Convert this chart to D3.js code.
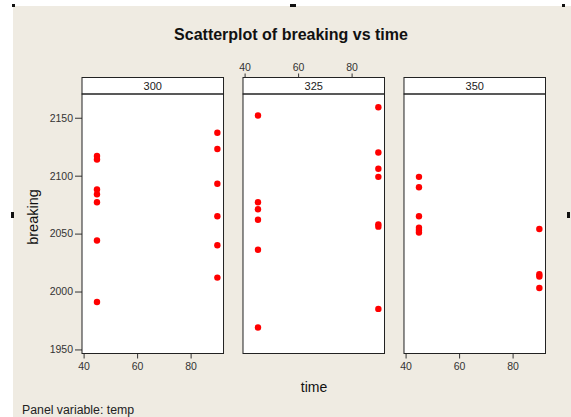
<!DOCTYPE html>
<html>
<head>
<meta charset="utf-8">
<script src="https://cdn.jsdelivr.net/npm/d3@7"></script>
<style>
  body { margin: 0; background: #fff; }
  svg { display: block; font-family: "Liberation Sans", Arial, sans-serif; }
</style>
</head>
<body>
<svg width="571" height="417"></svg>
<script>
// Panel variable (temp) and the two time levels
const temps = ["300", "325", "350"];
const times = [45, 90];

// breaking values, per panel, per time
const breaking300_45 = [2117, 2114, 2088, 2084, 2077, 2044, 1991];
const breaking300_90 = [2137, 2123, 2093, 2065, 2040, 2012];
const breaking325_45 = [2152, 2077, 2071, 2062, 2036, 1969];
const breaking325_90 = [2159, 2120, 2106, 2099, 2058, 2056, 1985];
const breaking350_45 = [2099, 2090, 2065, 2055, 2053, 2051];
const breaking350_90 = [2054, 2015, 2013, 2003];

const yTicks = [1950, 2000, 2050, 2100, 2150];
const xTicks = [40, 60, 80];

// build rows
const data = [];
[[breaking300_45, breaking300_90], [breaking325_45, breaking325_90], [breaking350_45, breaking350_90]]
  .forEach((pair, i) => {
    pair.forEach((vals, j) => {
      vals.forEach(v => data.push({ temp: temps[i], time: times[j], breaking: v }));
    });
  });

const svg = d3.select("svg");

// beige page area (screenshot has a thin white edge top/left)
svg.append("rect").attr("x", 13).attr("y", 6).attr("width", 571 - 13).attr("height", 417 - 6)
  .attr("fill", "#efebe2");

// little selection handles from the original screenshot
[[12, 4, 3, 3], [290, 4, 6, 3], [562, 4, 3, 3], [11, 212, 3, 6], [567, 212, 3, 6]].forEach(h => {
  svg.append("rect").attr("x", h[0]).attr("y", h[1]).attr("width", h[2]).attr("height", h[3]).attr("fill", "#111");
});

// panel layout
const stripTop = 77.5, plotTop = 94, plotBottom = 353.5;
const px = d3.scaleBand().domain(temps).range([82, 545.5]).paddingInner(0.121);
const y = d3.scaleLinear().domain([1946.5, 2170.5]).range([plotBottom, plotTop]);

const tickColor = "#333";
const styleAxis = ax => {
  ax.attr("font-family", null);
  ax.select(".domain").remove();
  ax.selectAll("line").attr("stroke", tickColor);
  ax.selectAll("text").attr("font-size", 10.5).attr("fill", tickColor);
};

temps.forEach((t, i) => {
  const left = px(t), w = px.bandwidth();
  const x = d3.scaleLinear().domain([39.4, 92.3]).range([left, left + w]);
  const g = svg.append("g");

  // plot area
  g.append("rect").attr("x", left).attr("y", plotTop).attr("width", w).attr("height", plotBottom - plotTop)
    .attr("fill", "#fff");

  // strip
  g.append("rect").attr("x", left).attr("y", stripTop).attr("width", w).attr("height", plotTop - stripTop)
    .attr("fill", "#fff").attr("stroke", "#222").attr("stroke-width", 1);
  g.append("text").attr("x", left + w / 2).attr("y", stripTop + 12.5)
    .attr("text-anchor", "middle").attr("font-size", 11).attr("fill", "#222").text(t);

  // axes: bottom on 1st & 3rd panels, top on the middle one
  if (i === 1) {
    g.append("g").attr("transform", `translate(0,${stripTop})`)
      .call(d3.axisTop(x).tickValues(xTicks).tickSize(4).tickPadding(3))
      .call(styleAxis);
  } else {
    g.append("g").attr("transform", `translate(0,${plotBottom})`)
      .call(d3.axisBottom(x).tickValues(xTicks).tickSize(5).tickPadding(4))
      .call(styleAxis);
  }
  if (i === 0) {
    g.append("g").attr("transform", `translate(${left},0)`)
      .call(d3.axisLeft(y).tickValues(yTicks).tickFormat(d3.format("d")).tickSize(7).tickPadding(2))
      .call(styleAxis);
  }

  // points
  g.selectAll("circle").data(data.filter(d => d.temp === t)).enter().append("circle")
    .attr("cx", d => x(d.time)).attr("cy", d => y(d.breaking)).attr("r", 3.2)
    .attr("fill", "#ff0000");

  // frame
  g.append("rect").attr("x", left).attr("y", plotTop).attr("width", w).attr("height", plotBottom - plotTop)
    .attr("fill", "none").attr("stroke", "#222").attr("stroke-width", 1);
});

// title and labels
svg.append("text").attr("x", 291).attr("y", 40).attr("text-anchor", "middle")
  .attr("font-size", 16).attr("font-weight", "bold").attr("fill", "#111")
  .text("Scatterplot of breaking vs time");

svg.append("text").attr("transform", "translate(38,217) rotate(-90)").attr("text-anchor", "middle")
  .attr("font-size", 14.5).attr("fill", "#111").text("breaking");

svg.append("text").attr("x", 314).attr("y", 392).attr("text-anchor", "middle")
  .attr("font-size", 14).attr("fill", "#111").text("time");

svg.append("text").attr("x", 22).attr("y", 414).attr("font-size", 12.3).attr("fill", "#222")
  .text("Panel variable: temp");
</script>
</body>
</html>
